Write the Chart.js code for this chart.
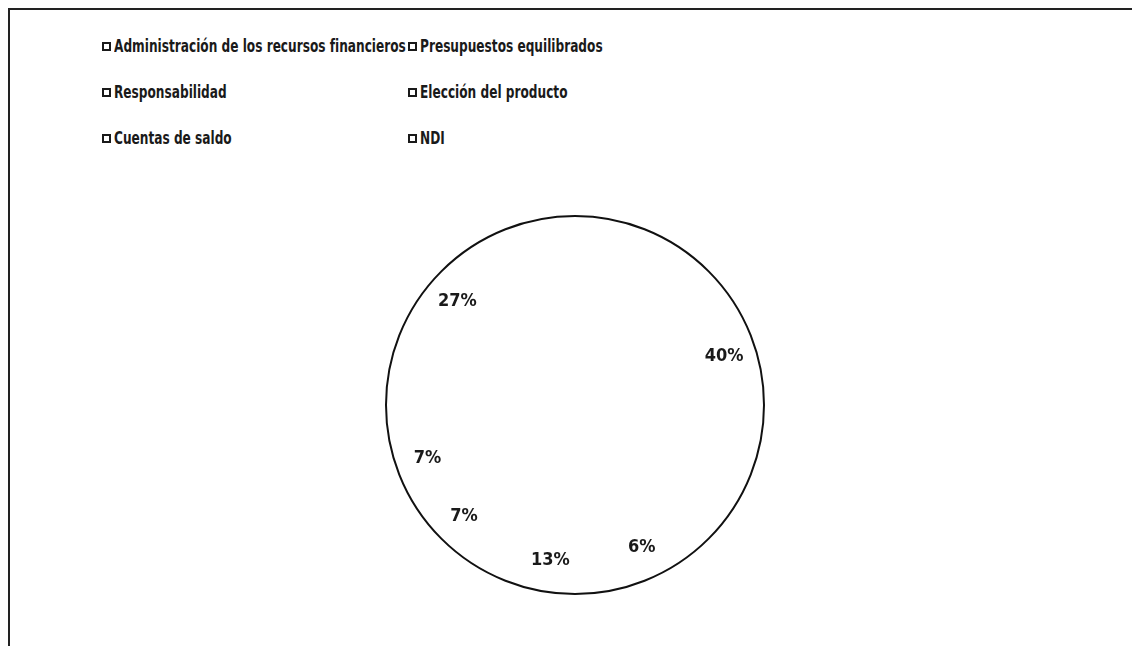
<!DOCTYPE html>
<html lang="es">
<head>
    <meta charset="UTF-8">
    <title>Distribución por tema</title>
    <script src="https://cdn.jsdelivr.net/npm/chart.js"></script>
    <style>
        html, body { margin: 0; padding: 0; background: #fff; }
        body { width: 1132px; height: 646px; position: relative; overflow: hidden;
               font-family: "DejaVu Sans Condensed", "Liberation Sans", Arial, sans-serif; }
        .frame { position: absolute; left: 8px; top: 8px; width: 1130px; height: 640px;
                 border-top: 2px solid #222; border-left: 2px solid #222; }
        .legend { position: absolute; left: 102px; top: 34px;
                  display: grid; grid-template-columns: 306px 300px; grid-auto-rows: 46px;
                  font-weight: bold; font-size: 18px; color: #1a1a1a; }
        .legend div { display: flex; align-items: flex-start; white-space: nowrap; line-height: 24px; }
        .legend span.box { flex: 0 0 auto; display: inline-block; width: 5px; height: 5px;
                           border: 2px solid #1a1a1a; margin: 8px 3px 0 0; background: #fff; }
        .legend span.txt { display: inline-block; transform: scaleX(0.75); transform-origin: left center; }
        .chart-box { position: absolute; left: 384px; top: 214px; width: 382px; height: 382px; }
    </style>
</head>
<body>
    <div class="frame"></div>
    <div class="legend" id="legend"></div>
    <div class="chart-box"><canvas id="pieChart"></canvas></div>

    <script>
        const categories = ['Administración de los recursos financieros', 'Presupuestos equilibrados',
                            'Responsabilidad', 'Elección del producto', 'Cuentas de saldo', 'NDI'];
        const percents = [40, 6, 13, 7, 7, 27];

        // labels sit inside the rim, the outer circle is the only visible line
        const pieDecor = {
            id: 'pieDecor',
            afterDatasetsDraw(chart) {
                const ctx = chart.ctx;
                const arcs = chart.getDatasetMeta(0).data;
                if (!arcs.length) return;
                const cx = arcs[0].x, cy = arcs[0].y, r = arcs[0].outerRadius;
                ctx.save();
                ctx.beginPath();
                ctx.arc(cx, cy, r, 0, Math.PI * 2);
                ctx.lineWidth = 2;
                ctx.strokeStyle = '#111';
                ctx.stroke();

                ctx.font = 'bold 18px "DejaVu Sans Condensed", "Liberation Sans", Arial, sans-serif';
                ctx.fillStyle = '#1a1a1a';
                ctx.textAlign = 'center';
                ctx.textBaseline = 'middle';
                arcs.forEach((arc, i) => {
                    const mid = (arc.startAngle + arc.endAngle) / 2;
                    const lr = r * 0.83;
                    ctx.fillText(percents[i] + '%', cx + Math.cos(mid) * lr, cy + Math.sin(mid) * lr);
                });
                ctx.restore();
            }
        };

        const chart = new Chart(document.getElementById('pieChart'), {
            type: 'pie',
            data: {
                labels: categories,
                datasets: [{
                    data: percents,
                    backgroundColor: '#ffffff',
                    borderWidth: 0
                }]
            },
            options: {
                responsive: true,
                maintainAspectRatio: false,
                animation: false,
                layout: { padding: 2 },
                plugins: {
                    legend: { display: false },
                    tooltip: { enabled: false }
                }
            },
            plugins: [pieDecor]
        });

        // html legend, two columns like the original
        const legendEl = document.getElementById('legend');
        chart.data.labels.forEach(lbl => {
            const item = document.createElement('div');
            const box = document.createElement('span');
            box.className = 'box';
            const txt = document.createElement('span');
            txt.className = 'txt';
            txt.textContent = lbl;
            item.appendChild(box);
            item.appendChild(txt);
            legendEl.appendChild(item);
        });
    </script>
</body>
</html>
